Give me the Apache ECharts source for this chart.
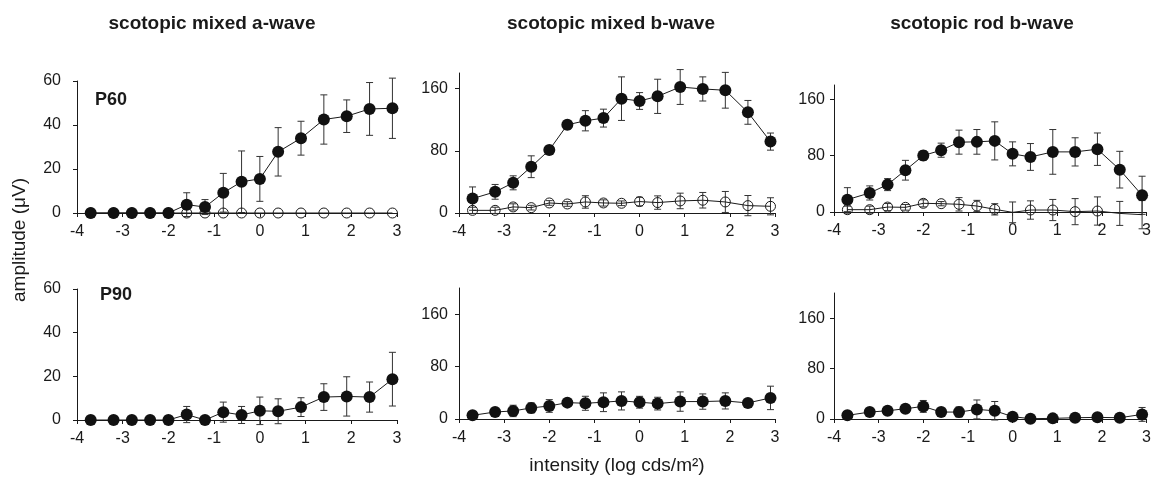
<!DOCTYPE html>
<html>
<head>
<meta charset="utf-8">
<script src="https://cdn.jsdelivr.net/npm/echarts@6/dist/echarts.min.js"></script>
<style>
  html, body { margin: 0; padding: 0; background: #fff; }
  #chart { width: 1154px; height: 487px; }
</style>
</head>
<body>
<div id="chart"></div>
<script>
// log intensity of each flash
const intensity = [-3.7, -3.2, -2.8, -2.4, -2.0, -1.6, -1.2, -0.8, -0.4, 0, 0.4, 0.9, 1.4, 1.9, 2.4, 2.9];

// scotopic mixed a-wave
const aP60Filled = [0, 0, 0, 0, 0, 3.8, 2.7, 9.2, 14.2, 15.5, 27.8, 34, 42.5, 44, 47.3, 47.6];
const aP60FilledSd = [0, 0, 0, 0, 0, 5.4, 3.4, 8.8, 14, 10.2, 11, 7.7, 11.2, 7.4, 12, 13.7];
const aP60Open = [0, 0, 0, 0, 0, 0, 0, 0, 0, 0, 0, 0, 0, 0, 0, 0];
const aP90Filled = [0, 0, 0, 0, 0, 2.5, 0, 3.6, 2.3, 4.2, 4.0, 5.9, 10.5, 10.8, 10.5, 18.7];
const aP90FilledSd = [0, 0, 0, 0, 0, 3.7, 0, 4.6, 3.9, 6.3, 5.7, 4.3, 6.1, 9, 6.9, 12.3];

// scotopic mixed b-wave
const bP60Filled = [18.5, 27.2, 38.8, 59.5, 81, 113.4, 118.6, 122, 147, 144, 150, 162, 159.5, 157.8, 129.4, 91.8];
const bP60FilledSd = [15, 9.5, 9, 14, 5, 5.6, 13, 11.5, 28, 10.8, 22, 22.4, 15.5, 23, 15.3, 11];
const bP60Open = [3.4, 3.4, 7.8, 6.9, 12.9, 11.6, 14.2, 12.9, 12.5, 14.7, 13.4, 15.5, 16.4, 14.2, 9.5, 8.6];
const bP60OpenSd = [4, 4, 4, 3, 3, 3, 8, 4, 3, 5.5, 8.6, 10, 10, 13.5, 13, 11];
const bP90Filled = [5.6, 10.7, 12.3, 16.9, 19.9, 25, 24, 25.6, 27.6, 25.6, 23.5, 26.6, 26.6, 27.6, 24.5, 32.2];
const bP90FilledSd = [2, 3, 8.7, 7.7, 9.7, 4.6, 10.7, 14.3, 13.8, 9, 9.7, 14.8, 11.7, 12.3, 3, 17.9];

// scotopic rod b-wave
const rP60Filled = [17.5, 27, 38.8, 59.2, 80, 87.6, 99, 99.4, 100.8, 82.4, 78, 85.2, 85.2, 89, 60, 23.7];
const rP60FilledSd = [17, 10, 8.5, 14, 6.6, 10, 17, 17.5, 27, 17, 19, 31.7, 20, 23, 26, 27];
const rP60Open = [3.3, 3.3, 7, 6.6, 12.3, 11.8, 10.9, 8.5, 3.8, -0.5, 2.8, 2.8, 0.5, 1.4, -2, -3.8];
const rP60OpenSd = [5, 5, 5, 4, 5, 3, 9.5, 8, 8, 14.7, 13, 15, 18.5, 20, 17, 20];
const rP90Filled = [5.8, 11, 13.1, 16.3, 20, 11, 11, 15.2, 13.1, 3.7, 0.5, 1, 2, 2.6, 2, 7.3];
const rP90FilledSd = [2, 3, 4, 5, 9.4, 6, 8, 15, 14.7, 3, 1, 1, 1, 1, 1, 11];

// tick labels
const xTicks = [-4, -3, -2, -1, 0, 1, 2, 3];
const aTicks = [0, 20, 40, 60];
const bTicks = [0, 80, 160];

const titles = ['scotopic mixed a-wave', 'scotopic mixed b-wave', 'scotopic rod b-wave'];
const rowLabels = ['P60', 'P90'];

const ink = '#1a1a1a';
const font = '"Liberation Sans", Arial, sans-serif';

const grids = [
    { left: 77, top: 81, width: 320, height: 132 },
    { left: 459, top: 73, width: 316, height: 140 },
    { left: 834, top: 85, width: 315, height: 127 },
    { left: 77, top: 289, width: 320, height: 131 },
    { left: 459, top: 288, width: 316, height: 131 },
    { left: 834, top: 293, width: 315, height: 126 }
];
const yMax = [60, 180, 180, 60, 200, 200];
const yTickSets = [aTicks, bTicks, bTicks, aTicks, bTicks, bTicks];
const yMargin = [16, 11, 9, 16, 11, 9];

const xAxes = grids.map((g, i) => ({
    type: 'value', gridIndex: i, min: -4, max: 3,
    axisLine: { show: true, onZero: false, lineStyle: { color: ink, width: 1 } },
    axisTick: { show: true, length: 4, customValues: xTicks, lineStyle: { color: ink } },
    axisLabel: { customValues: xTicks, color: ink, fontSize: 16, fontFamily: font, margin: 11 },
    splitLine: { show: false }
}));
const yAxes = grids.map((g, i) => ({
    type: 'value', gridIndex: i, min: 0, max: yMax[i],
    axisLine: { show: true, onZero: false, lineStyle: { color: ink, width: 1 } },
    axisTick: { show: true, length: 4, customValues: yTickSets[i], lineStyle: { color: ink } },
    axisLabel: { customValues: yTickSets[i], color: ink, fontSize: 16, fontFamily: font, margin: yMargin[i] },
    splitLine: { show: false }
}));

// mean and sd -> custom error bar series
function errorBars(idx, values, sds) {
    return {
        type: 'custom', xAxisIndex: idx, yAxisIndex: idx, clip: false, z: 2,
        data: intensity.map((x, i) => [x, values[i] - sds[i], values[i] + sds[i]]),
        renderItem: function (params, api) {
            const lo = api.coord([api.value(0), api.value(1)]);
            const hi = api.coord([api.value(0), api.value(2)]);
            if (Math.abs(hi[1] - lo[1]) < 1) return null;
            const cap = 3.5;
            const st = { stroke: '#333', lineWidth: 1 };
            return {
                type: 'group',
                children: [
                    { type: 'line', shape: { x1: lo[0], y1: lo[1], x2: hi[0], y2: hi[1] }, style: st },
                    { type: 'line', shape: { x1: hi[0] - cap, y1: hi[1], x2: hi[0] + cap, y2: hi[1] }, style: st },
                    { type: 'line', shape: { x1: lo[0] - cap, y1: lo[1], x2: lo[0] + cap, y2: lo[1] }, style: st }
                ]
            };
        }
    };
}

function filledLine(idx, values) {
    return {
        type: 'line', xAxisIndex: idx, yAxisIndex: idx, z: 4,
        data: intensity.map((x, i) => [x, values[i]]),
        symbol: 'circle', symbolSize: 12,
        itemStyle: { color: '#111' },
        lineStyle: { color: ink, width: 1 },
        emphasis: { disabled: true }
    };
}

function openLine(idx, values) {
    return {
        type: 'line', xAxisIndex: idx, yAxisIndex: idx, z: 3, clip: false,
        // markers that fall below zero are not drawn, like in the original
        data: intensity.map((x, i) => values[i] < 0 ? { value: [x, values[i]], symbol: 'none' } : [x, values[i]]),
        symbol: 'circle', symbolSize: 10,
        itemStyle: { color: 'rgba(255,255,255,0)', borderColor: ink, borderWidth: 1 },
        lineStyle: { color: ink, width: 1 },
        emphasis: { disabled: true }
    };
}

const series = [
    errorBars(0, aP60Filled, aP60FilledSd),
    openLine(0, aP60Open),
    filledLine(0, aP60Filled),

    errorBars(1, bP60Open, bP60OpenSd),
    errorBars(1, bP60Filled, bP60FilledSd),
    openLine(1, bP60Open),
    filledLine(1, bP60Filled),

    errorBars(2, rP60Open, rP60OpenSd),
    errorBars(2, rP60Filled, rP60FilledSd),
    openLine(2, rP60Open),
    filledLine(2, rP60Filled),

    errorBars(3, aP90Filled, aP90FilledSd),
    filledLine(3, aP90Filled),

    errorBars(4, bP90Filled, bP90FilledSd),
    filledLine(4, bP90Filled),

    errorBars(5, rP90Filled, rP90FilledSd),
    filledLine(5, rP90Filled)
];

const titleX = [212, 611, 982];
const graphic = titles.map((t, i) => ({
    type: 'text', x: titleX[i], y: 24,
    style: { text: t, font: 'bold 19px ' + font, fill: ink, align: 'center', verticalAlign: 'middle' }
}));
graphic.push(
    { type: 'text', x: 95, y: 100, style: { text: rowLabels[0], font: 'bold 18px ' + font, fill: ink, verticalAlign: 'middle' } },
    { type: 'text', x: 100, y: 295, style: { text: rowLabels[1], font: 'bold 18px ' + font, fill: ink, verticalAlign: 'middle' } },
    { type: 'text', x: 20, y: 240, rotation: Math.PI / 2,
      style: { text: 'amplitude (μV)', font: '19px ' + font, fill: ink, align: 'center', verticalAlign: 'middle' } },
    { type: 'text', x: 617, y: 466,
      style: { text: 'intensity (log cds/m²)', font: '19px ' + font, fill: ink, align: 'center', verticalAlign: 'middle' } }
);

const myChart = echarts.init(document.getElementById('chart'));
myChart.setOption({
    animation: false,
    backgroundColor: '#fff',
    grid: grids,
    xAxis: xAxes,
    yAxis: yAxes,
    series: series,
    graphic: graphic
});
</script>
</body>
</html>
